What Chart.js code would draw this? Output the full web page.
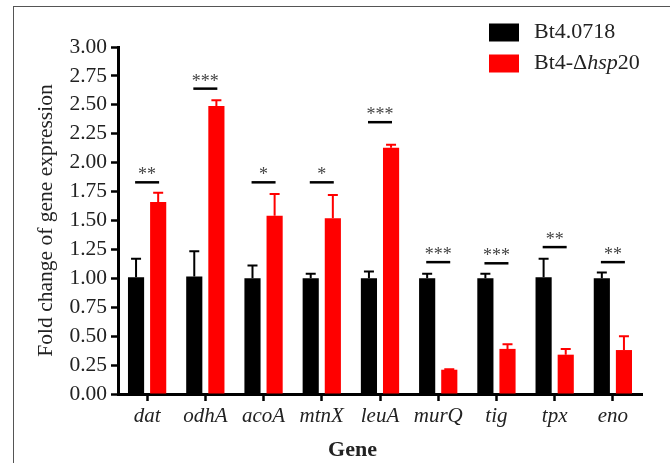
<!DOCTYPE html>
<html>
<head>
<meta charset="utf-8">
<script src="https://cdn.jsdelivr.net/npm/chart.js@4.4.0/dist/chart.umd.min.js"></script>
<style>
  html, body { margin: 0; padding: 0; background: #fff; }
  #wrap { position: relative; width: 670px; height: 463px; overflow: hidden; }
  #frame { position: absolute; left: 13px; top: 6px; width: 700px; height: 500px;
           border-left: 1.5px solid #555; border-top: 1.5px solid #555; }
  canvas { position: absolute; left: 0; top: 0; }
</style>
</head>
<body>
<div id="wrap">
  <div id="frame"></div>
  <canvas id="geneChart" width="670" height="463"></canvas>
</div>
<script>
const genes = ['dat', 'odhA', 'acoA', 'mtnX', 'leuA', 'murQ', 'tig', 'tpx', 'eno'];

const wtMean = [1.01, 1.015, 1.00, 1.00, 1.00, 1.00, 1.00, 1.01, 1.00];
const wtErr = [0.16, 0.22, 0.11, 0.04, 0.06, 0.04, 0.04, 0.16, 0.05];

const mutMean = [1.66, 2.49, 1.54, 1.52, 2.13, 0.21, 0.39, 0.34, 0.38];
const mutErr = [0.08, 0.05, 0.19, 0.20, 0.025, 0.005, 0.04, 0.05, 0.12];

const sigLabels = ['**', '***', '*', '*', '***', '***', '***', '**', '**'];
const sigLevel = [1.83, 2.64, 1.83, 1.83, 2.35, 1.14, 1.13, 1.27, 1.14];

const yTicks = [0, 0.25, 0.5, 0.75, 1, 1.25, 1.5, 1.75, 2, 2.25, 2.5, 2.75, 3];

const xTitle = 'Gene';
const yTitle = 'Fold change of gene expression';

const serif = 'Liberation Serif';

// error bars, upward only, drawn through the y scale
const errorBars = {
    id: 'errorBars',
    afterDatasetsDraw(chart) {
        const ctx = chart.ctx;
        const yScale = chart.scales.y;
        chart.data.datasets.forEach((ds, i) => {
            const meta = chart.getDatasetMeta(i);
            meta.data.forEach((bar, j) => {
                const top = yScale.getPixelForValue(ds.data[j] + ds.errors[j]);
                ctx.save();
                ctx.strokeStyle = ds.backgroundColor;
                ctx.lineWidth = 2;
                ctx.beginPath();
                ctx.moveTo(bar.x, bar.y);
                ctx.lineTo(bar.x, top);
                ctx.moveTo(bar.x - 5, top);
                ctx.lineTo(bar.x + 5, top);
                ctx.stroke();
                ctx.restore();
            });
        });
    }
};

// significance lines with stars above each gene
const significance = {
    id: 'significance',
    afterDatasetsDraw(chart) {
        const ctx = chart.ctx;
        const xScale = chart.scales.x;
        const yScale = chart.scales.y;
        genes.forEach((g, j) => {
            const cx = xScale.getPixelForValue(j);
            const py = yScale.getPixelForValue(sigLevel[j]);
            ctx.save();
            ctx.strokeStyle = '#000';
            ctx.lineWidth = 2.5;
            ctx.beginPath();
            ctx.moveTo(cx - 12, py);
            ctx.lineTo(cx + 12, py);
            ctx.stroke();
            ctx.fillStyle = '#444';
            ctx.font = `18px "${serif}"`;
            ctx.textAlign = 'center';
            ctx.textBaseline = 'alphabetic';
            ctx.fillText(sigLabels[j], cx, py - 2);
            ctx.restore();
        });
    }
};

// x axis title sits a little left of the axis centre
const geneTitle = {
    id: 'geneTitle',
    afterDraw(chart) {
        const ctx = chart.ctx;
        const area = chart.chartArea;
        ctx.save();
        ctx.fillStyle = '#222';
        ctx.font = `bold 22px "${serif}"`;
        ctx.textAlign = 'center';
        ctx.textBaseline = 'alphabetic';
        ctx.fillText(xTitle, area.left + (area.right - area.left) * 0.4475, 456);
        ctx.restore();
    }
};

// legend with italic gene name
const legendParts = [
    [['Bt4.0718', 'normal']],
    [['Bt4-\u0394', 'normal'], ['hsp', 'italic'], ['20', 'normal']]
];

const customLegend = {
    id: 'customLegend',
    afterDraw(chart) {
        const ctx = chart.ctx;
        chart.data.datasets.forEach((ds, i) => {
            const boxY = 23.5 + i * 31;
            ctx.save();
            ctx.fillStyle = ds.backgroundColor;
            ctx.fillRect(489, boxY, 30, 18);
            ctx.fillStyle = '#222';
            ctx.textBaseline = 'middle';
            let tx = 534;
            legendParts[i].forEach(([txt, style]) => {
                ctx.font = `${style} 22px "${serif}"`;
                ctx.fillText(txt, tx, boxY + 9);
                tx += ctx.measureText(txt).width;
            });
            ctx.restore();
        });
    }
};

const ctx = document.getElementById('geneChart').getContext('2d');

new Chart(ctx, {
    type: 'bar',
    data: {
        labels: genes,
        datasets: [
            {
                label: 'Bt4.0718',
                data: wtMean,
                errors: wtErr,
                backgroundColor: '#000000',
                categoryPercentage: 0.76,
                barPercentage: 0.73
            },
            {
                label: 'Bt4-\u0394hsp20',
                data: mutMean,
                errors: mutErr,
                backgroundColor: '#ff0000',
                categoryPercentage: 0.76,
                barPercentage: 0.73
            }
        ]
    },
    options: {
        responsive: false,
        animation: false,
        layout: {
            padding: { left: 31, right: 28, top: 47, bottom: 0 }
        },
        plugins: {
            legend: { display: false },
            tooltip: { enabled: false }
        },
        scales: {
            x: {
                afterFit(scale) { scale.height = 69; },
                grid: {
                    offset: false,
                    drawOnChartArea: false,
                    drawTicks: true,
                    tickLength: 7,
                    tickWidth: 2.5,
                    tickColor: '#000'
                },
                border: { color: '#000', width: 3 },
                ticks: {
                    color: '#222',
                    padding: 3,
                    maxRotation: 0,
                    font: { family: serif, size: 21, style: 'italic' }
                },
                title: { display: false }
            },
            y: {
                min: 0,
                max: 3,
                afterFit(scale) { scale.width = 87; },
                afterBuildTicks(scale) {
                    scale.ticks = yTicks.map(v => ({ value: v }));
                },
                grid: {
                    drawOnChartArea: false,
                    drawTicks: true,
                    tickLength: 7,
                    tickWidth: 2.5,
                    tickColor: '#000'
                },
                border: { color: '#000', width: 3 },
                ticks: {
                    color: '#222',
                    padding: 4,
                    font: { family: serif, size: 21.5 },
                    callback: v => Number(v).toFixed(2)
                },
                title: {
                    display: true,
                    text: yTitle,
                    color: '#222',
                    padding: { top: 2, bottom: 2 },
                    font: { family: serif, size: 21.5 }
                }
            }
        }
    },
    plugins: [errorBars, significance, geneTitle, customLegend]
});
</script>
</body>
</html>
